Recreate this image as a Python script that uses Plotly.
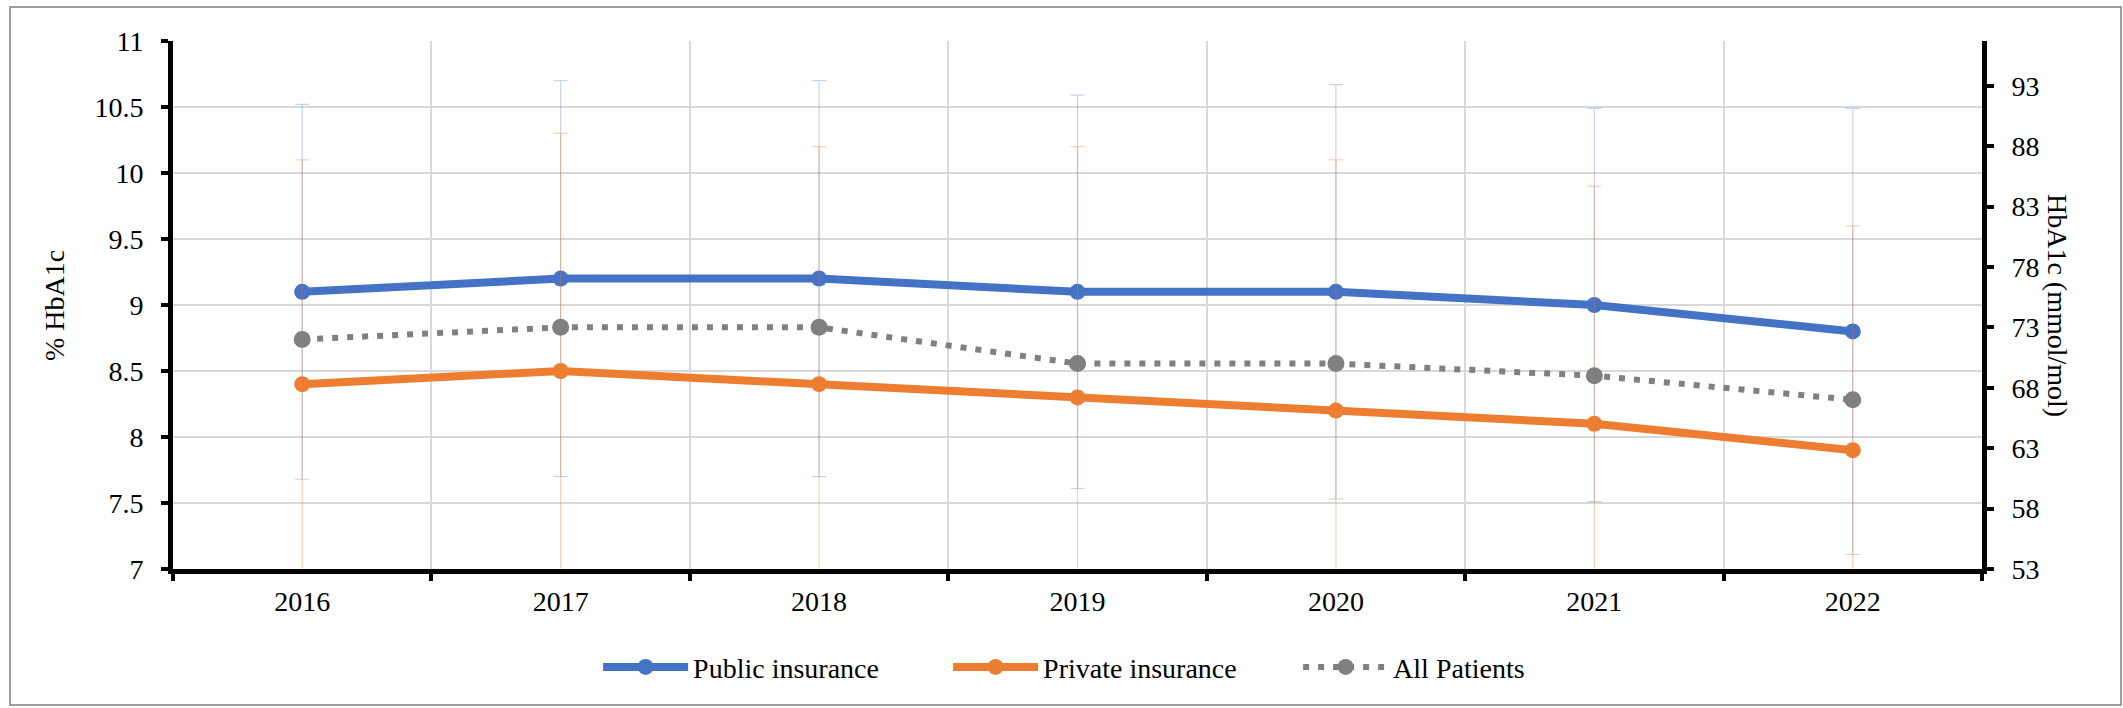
import plotly.graph_objects as go

# HbA1c by insurance type, 2016-2022
years = ["2016", "2017", "2018", "2019", "2020", "2021", "2022"]
public_pct = [9.1, 9.2, 9.2, 9.1, 9.1, 9.0, 8.8]
public_sd = [1.42, 1.5, 1.5, 1.49, 1.57, 1.49, 1.69]
private_pct = [8.4, 8.5, 8.4, 8.3, 8.2, 8.1, 7.9]
private_sd = [1.7, 1.8, 1.8, 1.9, 1.9, 1.8, 1.7]
all_mmol = [72, 73, 73, 70, 70, 69, 67]

left_ticks = [7, 7.5, 8, 8.5, 9, 9.5, 10, 10.5, 11]
left_ticklabels = ["7", "7.5", "8", "8.5", "9", "9.5", "10", "10.5", "11"]
right_ticks = [53, 58, 63, 68, 73, 78, 83, 88, 93]

BLUE = "#4472C4"
ORANGE = "#ED7D31"
GRAY = "#808080"
GRID = "#D9D9D9"
FONT = "Liberation Serif"

fig = go.Figure()

fig.add_trace(go.Scatter(
    x=years, y=public_pct, name="Public insurance", mode="lines+markers",
    line=dict(color=BLUE, width=8),
    marker=dict(color=BLUE, size=16),
    error_y=dict(type="data", array=public_sd, visible=True,
                 color="rgba(68,114,196,0.30)", thickness=1.2, width=7),
))
fig.add_trace(go.Scatter(
    x=years, y=private_pct, name="Private insurance", mode="lines+markers",
    line=dict(color=ORANGE, width=8),
    marker=dict(color=ORANGE, size=16),
    error_y=dict(type="data", array=private_sd, visible=True,
                 color="rgba(237,125,49,0.35)", thickness=1.2, width=7),
))
fig.add_trace(go.Scatter(
    x=years, y=all_mmol, name="All Patients", mode="lines+markers",
    yaxis="y2",
    line=dict(color=GRAY, width=6, dash="6px,9px"),
    marker=dict(color=GRAY, size=17),
))

fig.update_layout(
    width=2123, height=708,
    margin=dict(l=173, r=141, t=41, b=139),
    paper_bgcolor="white", plot_bgcolor="white",
    font=dict(family=FONT, size=28, color="black"),
    showlegend=True,
    legend=dict(
        orientation="h", xanchor="left", yanchor="middle",
        x=0.235, y=-0.186,
        font=dict(family=FONT, size=28, color="black"),
        itemwidth=85,
        entrywidth=250, entrywidthmode="pixels",
        bgcolor="rgba(0,0,0,0)",
    ),
    xaxis=dict(
        type="category", range=[-0.5, 6.5],
        tickson="boundaries", ticks="outside", ticklen=7, tickwidth=4,
        tickcolor="black",
        showline=True, linecolor="black", linewidth=5,
        showgrid=True, gridcolor=GRID, gridwidth=1.5,
        tickfont=dict(family=FONT, size=28),
        ticklabelstandoff=3,
        zeroline=False,
    ),
    yaxis=dict(
        range=[7, 11], tickvals=left_ticks, ticktext=left_ticklabels,
        ticks="outside", ticklen=7, tickwidth=4, tickcolor="black",
        showline=True, linecolor="black", linewidth=5,
        showgrid=True, gridcolor=GRID, gridwidth=1.5,
        tickfont=dict(family=FONT, size=28),
        ticklabelstandoff=12,
        zeroline=False,
    ),
    yaxis2=dict(
        overlaying="y", side="right", range=[53, 96.7],
        tickvals=right_ticks,
        ticks="outside", ticklen=7, tickwidth=4, tickcolor="black",
        showline=True, linecolor="black", linewidth=5,
        showgrid=False,
        tickfont=dict(family=FONT, size=28),
        ticklabelstandoff=12,
        zeroline=False,
    ),
    annotations=[
        dict(text="% HbA1c", xref="paper", yref="paper",
             x=(54 - 173) / 1809, y=0.5, textangle=-90, showarrow=False,
             xanchor="center", yanchor="middle",
             font=dict(family=FONT, size=28)),
        dict(text="HbA1c (mmol/mol)", xref="paper", yref="paper",
             x=(2058 - 173) / 1809, y=0.5, textangle=90, showarrow=False,
             xanchor="center", yanchor="middle",
             font=dict(family=FONT, size=28)),
    ],
    shapes=[
        dict(type="rect", xref="paper", yref="paper",
             x0=(10 - 173) / 1809, x1=(2121 - 173) / 1809,
             y0=(569 - 705) / 528, y1=(569 - 7) / 528,
             line=dict(color="#7F7F7F", width=1.5), fillcolor="rgba(0,0,0,0)",
             layer="below"),
    ],
)

fig.write_html("out.html")
